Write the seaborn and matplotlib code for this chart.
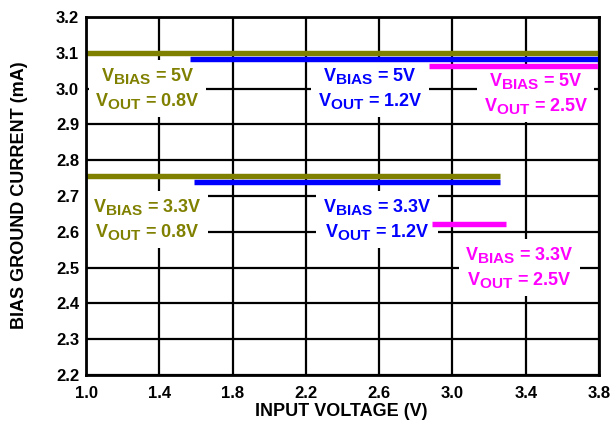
import matplotlib
matplotlib.use("Agg")
import matplotlib.pyplot as plt
import matplotlib._mathtext as _mt
import seaborn as sns
import pandas as pd

_mt.SHRINK_FACTOR = 0.85  # larger subscripts, as in the reference

series = ["5V/0.8V", "5V/1.2V", "5V/2.5V", "3.3V/0.8V", "3.3V/1.2V", "3.3V/2.5V"]
vbias = ["5V", "5V", "5V", "3.3V", "3.3V", "3.3V"]
vout = ["0.8V", "1.2V", "2.5V", "0.8V", "1.2V", "2.5V"]
x_start = [1.0, 1.57, 2.87, 1.0, 1.59, 2.89]
x_end = [3.8, 3.8, 3.8, 3.26, 3.26, 3.29]
current = [3.099, 3.082, 3.064, 2.757, 2.739, 2.622]
colors = ["#808000", "#0000FF", "#FF00FF", "#808000", "#0000FF", "#FF00FF"]

x_ticks = [1.0, 1.4, 1.8, 2.2, 2.6, 3.0, 3.4, 3.8]
x_tick_labels = ["1.0", "1.4", "1.8", "2.2", "2.6", "3.0", "3.4", "3.8"]
y_ticks = [2.2, 2.3, 2.4, 2.5, 2.6, 2.7, 2.8, 2.9, 3.0, 3.1, 3.2]
y_tick_labels = ["2.2", "2.3", "2.4", "2.5", "2.6", "2.7", "2.8", "2.9", "3.0", "3.1", "3.2"]

# label anchor positions (x in V, y in mA)
label_x = [1.335, 2.55, 3.455, 1.335, 2.588, 3.366]
label_y = [3.0, 3.0, 2.986, 2.635, 2.635, 2.50]

rows = []
for s, x0, x1, y in zip(series, x_start, x_end, current):
    rows.append({"series": s, "x": x0, "y": y})
    rows.append({"series": s, "x": x1, "y": y})
df = pd.DataFrame(rows)

sns.set_theme(style="white")
plt.rcParams["font.family"] = ["Liberation Sans", "DejaVu Sans"]
plt.rcParams["mathtext.fontset"] = "custom"
plt.rcParams["mathtext.rm"] = "Liberation Sans:bold"
plt.rcParams["mathtext.bf"] = "Liberation Sans:bold"
plt.rcParams["mathtext.it"] = "Liberation Sans:bold"

fig = plt.figure(figsize=(6.14, 4.24), dpi=100)
ax = fig.add_axes([86 / 614, 1 - 375 / 424, (599 - 86) / 614, (375 - 17) / 424])

sns.lineplot(data=df, x="x", y="y", hue="series", palette=dict(zip(series, colors)),
             linewidth=3.9, legend=False, ax=ax, estimator=None, sort=False,
             solid_capstyle="butt")
for line in ax.lines:
    line.set_clip_on(False)
    line.set_zorder(4)

ax.set_xlim(1.0, 3.8)
ax.set_ylim(2.2, 3.2)
ax.set_xticks(x_ticks)
ax.set_xticklabels(x_tick_labels, fontweight="bold", fontsize=12)
ax.set_yticks(y_ticks)
ax.set_yticklabels(y_tick_labels, fontweight="bold", fontsize=12)
ax.grid(True, color="black", linewidth=1.6, zorder=0)
ax.set_axisbelow(True)
ax.tick_params(axis="both", length=0, colors="black")
ax.tick_params(axis="x", pad=8)
ax.tick_params(axis="y", pad=5)

for vb, vo, c, lx, ly in zip(vbias, vout, colors, label_x, label_y):
    txt = r"V$_{\mathrm{BIAS}}$ = " + vb + "\n" + r"V$_{\mathrm{OUT}}$ = " + vo
    ax.text(lx, ly, txt, color=c, fontsize=13, fontweight="bold", ha="center",
            va="center", linespacing=1.3, zorder=3,
            bbox=dict(facecolor="white", edgecolor="none",
                      boxstyle="square,pad=0.35"))

for sp in ax.spines.values():
    sp.set_color("black")
    sp.set_linewidth(2)
    sp.set_visible(True)
    sp.set_zorder(5)

ax.set_xlabel("INPUT VOLTAGE (V)", fontsize=13, fontweight="bold", color="black")
ax.set_ylabel("BIAS GROUND CURRENT (mA)", fontsize=13, fontweight="bold", color="black")
ax.xaxis.set_label_coords(0.498, -0.078)
ax.yaxis.set_label_coords(-0.113, 0.503)

fig.savefig("out.png", dpi=100)
